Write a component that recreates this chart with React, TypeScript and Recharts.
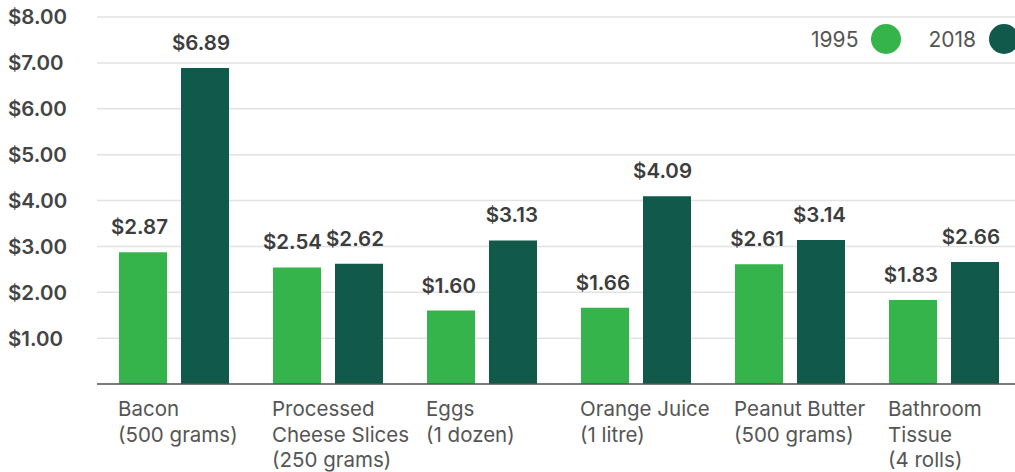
import { BarChart, Bar, XAxis, YAxis, CartesianGrid, LabelList } from 'recharts';

const categories = ['Bacon', 'Processed Cheese', 'Eggs', 'Orange Juice', 'Peanut Butter', 'Bathroom Tissue'];
const categoryLines = [
  ['Bacon', '(500 grams)'],
  ['Processed', 'Cheese Slices', '(250 grams)'],
  ['Eggs', '(1 dozen)'],
  ['Orange Juice', '(1 litre)'],
  ['Peanut Butter', '(500 grams)'],
  ['Bathroom', 'Tissue', '(4 rolls)'],
];
const prices1995 = [2.87, 2.54, 1.6, 1.66, 2.61, 1.83];
const prices2018 = [6.89, 2.62, 3.13, 4.09, 3.14, 2.66];
const yTicks = [0, 1, 2, 3, 4, 5, 6, 7, 8];

const GREEN = '#34b44a';
const DARK = '#10594b';
const FONT = 'Inter, "Open Sans", sans-serif';

const data = categories.map((name, i) => ({
  name,
  y1995: prices1995[i],
  y2018: prices2018[i],
}));

const money = (v: number) => '$' + v.toFixed(2);

function YTick({ y, payload }: any) {
  if (payload.value === 0) return null;
  return (
    <text x={8} y={y} dy="0.36em" textAnchor="start" fontFamily={FONT} fontWeight={600} fontSize={20.5} fill="#444">
      {money(payload.value)}
    </text>
  );
}

// multi-line category label, left-aligned with the first bar of the group
function XTick({ x, y, index }: any) {
  const lines = categoryLines[index] || [];
  return (
    <g>
      {lines.map((line, i) => (
        <text key={i} x={x - 56} y={y + 32 + i * 25.5} textAnchor="start" fontFamily={FONT} fontSize={20.5} fill="#555">
          {line}
        </text>
      ))}
    </g>
  );
}

function ValueLabel({ x, y, width, value }: any) {
  return (
    <text x={x + width + 1} y={y - 18} textAnchor="end" fontFamily={FONT} fontWeight={600} fontSize={20.5} fill="#3d3d3d">
      {money(value)}
    </text>
  );
}

function LegendBox() {
  const item = (label: string, color: string, ml: number) => (
    <div style={{ display: 'flex', alignItems: 'center', marginLeft: ml }}>
      <span style={{ fontFamily: FONT, fontSize: 21, color: '#555', marginRight: 13 }}>{label}</span>
      <span style={{ width: 30, height: 30, borderRadius: 15, background: color, display: 'inline-block' }} />
    </div>
  );
  return (
    <div style={{ position: 'absolute', top: 24, left: 0, width: 1019, display: 'flex', justifyContent: 'flex-end' }}>
      {item('1995', GREEN, 0)}
      {item('2018', DARK, 27)}
    </div>
  );
}

export default function App() {
  return (
    <div style={{ position: 'absolute', left: 0, top: 0, width: 1015, height: 472, overflow: 'hidden', background: '#fff' }}>
      <BarChart
        width={1025}
        height={472}
        data={data}
        margin={{ top: 17, right: 4, left: 0, bottom: 0 }}
        barCategoryGap={22}
        barGap={14}
      >
        <CartesianGrid vertical={false} stroke="#e2e2e2" strokeWidth={1.5} />
        <XAxis
          dataKey="name"
          axisLine={{ stroke: '#555', strokeWidth: 1.5 }}
          tickLine={false}
          tickSize={0}
          tickMargin={0}
          height={88}
          interval={0}
          tick={<XTick />}
        />
        <YAxis
          domain={[0, 8]}
          ticks={yTicks}
          width={97}
          axisLine={false}
          tickLine={false}
          tick={<YTick />}
        />
        <Bar dataKey="y1995" fill={GREEN} isAnimationActive={false}>
          <LabelList dataKey="y1995" content={<ValueLabel />} />
        </Bar>
        <Bar dataKey="y2018" fill={DARK} isAnimationActive={false}>
          <LabelList dataKey="y2018" content={<ValueLabel />} />
        </Bar>
      </BarChart>
      <LegendBox />
    </div>
  );
}
